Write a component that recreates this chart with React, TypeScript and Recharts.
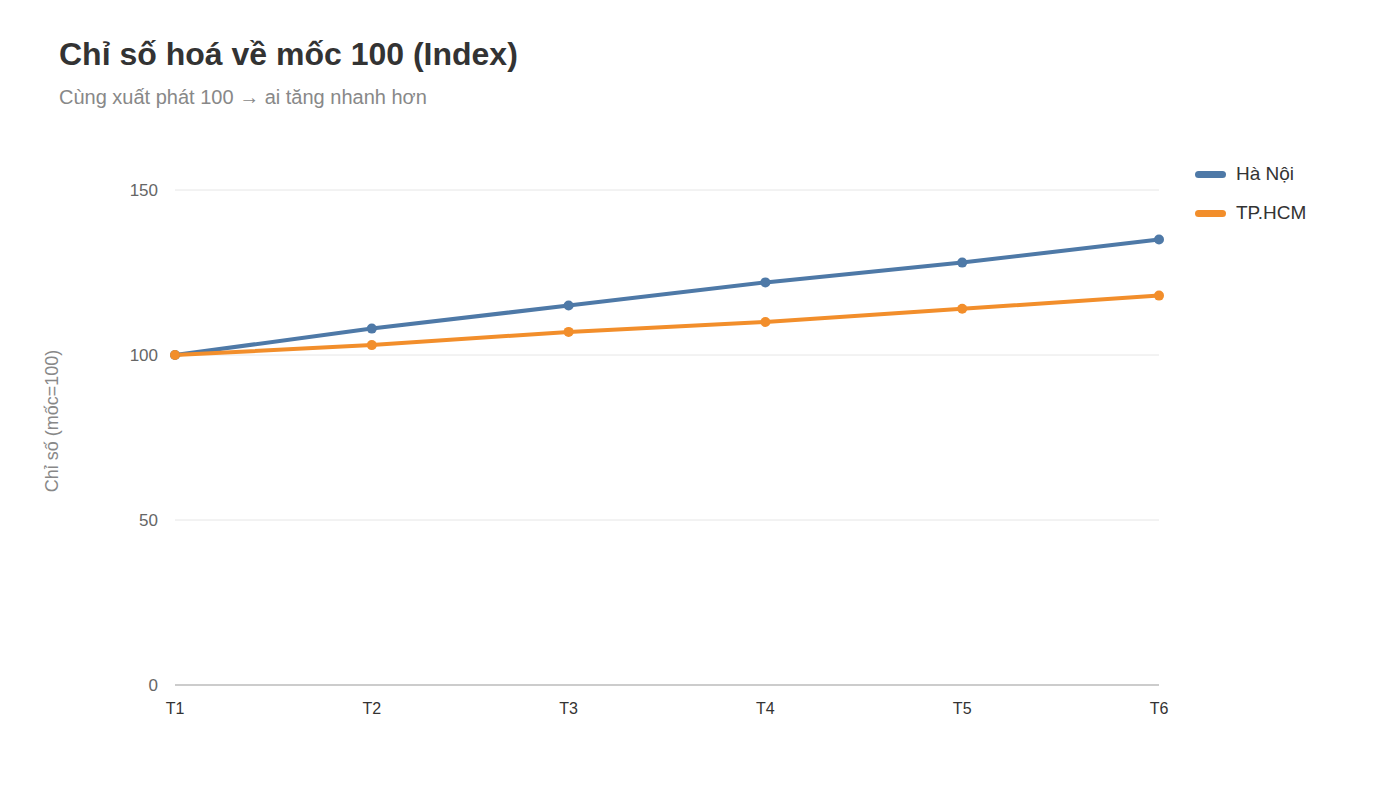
import React from 'react'
import { LineChart, Line, XAxis, YAxis, CartesianGrid } from 'recharts'

const months = ['T1', 'T2', 'T3', 'T4', 'T5', 'T6']
const haNoi = [100, 108, 115, 122, 128, 135]
const hcm = [100, 103, 107, 110, 114, 118]
const yTicks = [0, 50, 100, 150]

const series = [
  { key: 'hn', name: 'Hà Nội', color: '#4e79a7', values: haNoi },
  { key: 'hcm', name: 'TP.HCM', color: '#f28e2b', values: hcm },
]

const data = months.map((m, i) => {
  const row: Record<string, string | number> = { month: m }
  series.forEach(s => { row[s.key] = s.values[i] })
  return row
})

const font = '"Liberation Sans", Arial, Helvetica, sans-serif'

function LegendList() {
  return (
    <div style={{ position: 'absolute', left: 1195, top: 163, display: 'flex', flexDirection: 'column', gap: 17 }}>
      {series.map(s => (
        <div key={s.key} style={{ display: 'flex', alignItems: 'center', height: 22 }}>
          <span style={{ width: 31, height: 7, borderRadius: 4, background: s.color, marginRight: 10 }} />
          <span style={{ fontSize: 19, color: '#333', fontFamily: font }}>{s.name}</span>
        </div>
      ))}
    </div>
  )
}

export default function App() {
  return (
    <div style={{ position: 'relative', width: 1400, height: 787, margin: -8, background: '#fff', fontFamily: font }}>
      <div style={{ position: 'absolute', left: 59, top: 36, fontSize: 32, fontWeight: 700, color: '#333' }}>
        Chỉ số hoá về mốc 100 (Index)
      </div>
      <div style={{ position: 'absolute', left: 59, top: 86, fontSize: 20, color: '#888' }}>
        Cùng xuất phát 100 → ai tăng nhanh hơn
      </div>
      <div style={{ position: 'absolute', left: 0, top: 0 }}>
        {/* XAxis height (30) and YAxis width (60) are added on top of these margins */}
        <LineChart width={1400} height={787} data={data} margin={{ top: 157, right: 241, bottom: 72, left: 115 }}>
          <CartesianGrid vertical={false} stroke="#e6e6e6" horizontalValues={[50, 100, 150]} />
          <XAxis
            dataKey="month"
            height={30}
            axisLine={{ stroke: '#cccccc', strokeWidth: 2 }}
            tickLine={false}
            tickMargin={12}
            tick={{ fontSize: 16, fill: '#333', fontFamily: font }}
            padding={{ left: 0, right: 0 }}
          />
          <YAxis
            width={60}
            domain={[0, 160]}
            ticks={yTicks}
            axisLine={false}
            tickLine={false}
            tickMargin={11}
            tick={{ fontSize: 17, fill: '#666', fontFamily: font }}
            label={{
              value: 'Chỉ số (mốc=100)',
              angle: -90,
              position: 'insideLeft',
              offset: -63,
              style: { textAnchor: 'middle', fontSize: 18, fill: '#888', fontFamily: font },
            }}
          />
          {series.map(s => (
            <Line
              key={s.key}
              dataKey={s.key}
              name={s.name}
              stroke={s.color}
              strokeWidth={4}
              dot={{ r: 5, fill: s.color, stroke: s.color, strokeWidth: 0 }}
              activeDot={false}
              isAnimationActive={false}
            />
          ))}
        </LineChart>
      </div>
      <LegendList />
    </div>
  )
}
